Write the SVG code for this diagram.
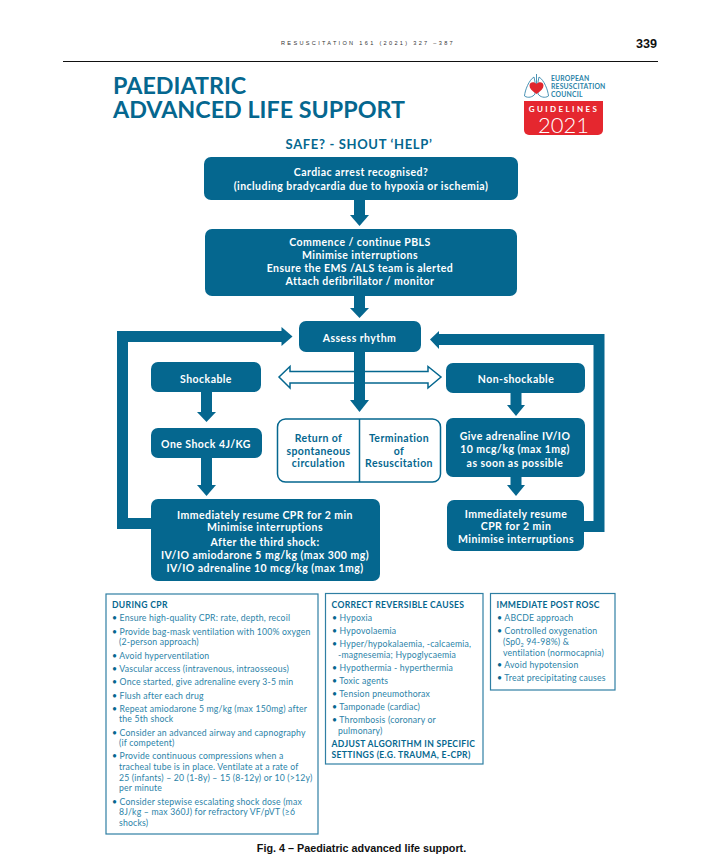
<svg xmlns="http://www.w3.org/2000/svg" width="716" height="861" viewBox="0 0 716 861">
<style>
text{font-family:"Lato","Open Sans","Liberation Sans",sans-serif}
.box{fill:#05678f}
.w{fill:#fff;font-weight:700;font-size:10.5px;text-anchor:middle;letter-spacing:.45px}
.t{fill:#05678f;font-weight:700;font-size:10.5px;text-anchor:middle;letter-spacing:.4px}
.shaft{fill:none;stroke:#05678f;stroke-width:11}
.head{fill:#05678f}
.panel{fill:#fff;stroke:#2f7fa3;stroke-width:1.2}
.h{fill:#05678f;font-weight:700;font-size:8.6px;letter-spacing:.33px}
.l{fill:#2b83a8;font-size:8.7px;letter-spacing:.18px}
.b{fill:#05678f;font-size:8.7px}
</style>
<rect width="716" height="861" fill="#fff"/>
<g id="header">
<text x="368" y="45" font-size="5.6" letter-spacing="2.3" text-anchor="middle" fill="#333" style="font-family:'Liberation Sans',sans-serif">RESUSCITATION 161 (2021) 327 –387</text>
<text x="636" y="48" font-size="12.6" font-weight="700" fill="#111" style="font-family:'Liberation Sans',sans-serif">339</text>
<line x1="63" y1="61.500" x2="658" y2="61.500" stroke="#111" stroke-width="1.200"/>
<text x="113" y="94" font-size="23.300" font-weight="700" fill="#05678f">PAEDIATRIC</text>
<text x="113" y="118" font-size="23.300" font-weight="700" fill="#05678f">ADVANCED LIFE SUPPORT</text>
<text x="359" y="149" font-size="13" font-weight="700" text-anchor="middle" fill="#05678f" letter-spacing=".65">SAFE? - SHOUT ‘HELP’</text>
</g>
<g id="logo">
<path d="M534 77C529 80 525 90 524.500 96C528 98.500 533 97 535 94V82ZM539 77C544 80 548 90 548.500 96C545 98.500 540 97 538 94V82Z" fill="#fff" stroke="#4a93b5" stroke-width="1"/>
<path d="M536.500 74V84" fill="none" stroke="#4a93b5" stroke-width="1"/>
<path d="M536.500 94C532 91 529.500 88.500 529.500 85.500C529.500 82 534 81 536.500 84C539 81 543.500 82 543.500 85.500C543.500 88.500 541 91 536.500 94Z" fill="#e0262e"/>
<g fill="#2b83a8" font-size="6.800" font-weight="700" letter-spacing=".2"><text x="551" y="80.500">EUROPEAN</text><text x="551" y="88.500">RESUSCITATION</text><text x="551" y="96.500">COUNCIL</text></g>
<path d="M524 101H603V130a5 5 0 0 1-5 5H529a5 5 0 0 1-5-5Z" fill="#e5272f"/>
<text x="564" y="111.500" font-size="8" font-weight="700" fill="#fff" text-anchor="middle" letter-spacing="2.400">GUIDELINES</text>
<text x="563.500" y="132.500" font-size="22" font-weight="300" fill="#fff" text-anchor="middle">2021</text>
</g>
<g id="connectors">
<path class="shaft" d="M359.500 200V216"/><polygon class="head" points="350,215 369,215 359.500,226"/>
<path class="shaft" d="M359.500 296V309"/><polygon class="head" points="350,308 369,308 359.500,318"/>
<path class="shaft" d="M155 523.500H122.500V336.500H282"/><polygon class="head" points="281.500,327 292.500,336.500 281.500,346"/>
<path class="shaft" d="M580 526.500H599V339.500H438"/><polygon class="head" points="439,331 430,339.500 439,349"/>
<polygon points="279,377 290,366.500 290,371.500 428,371.500 428,366.500 441,377 428,388 428,383 290,383 290,388" fill="#fff" stroke="#05678f" stroke-width="1.500"/>
<path class="shaft" d="M359.500 352V401"/><polygon class="head" points="350,400 369,400 359.500,412"/>
<path class="shaft" d="M206.500 392V413"/><polygon class="head" points="197,412 216,412 206.500,422"/>
<path class="shaft" d="M206.500 458V486"/><polygon class="head" points="197,485 216,485 206.500,496"/>
<path class="shaft" d="M516 393V406"/><polygon class="head" points="507,405 525,405 516,416"/>
<path class="shaft" d="M516 477V486"/><polygon class="head" points="507,485 525,485 516,496"/>
</g>
<g id="n-arrest"><rect class="box" x="204" y="157" width="314" height="43" rx="7"/><text class="w" x="361" y="176">Cardiac arrest recognised?</text><text class="w" x="361" y="190">(including bradycardia due to hypoxia or ischemia)</text></g>
<g id="n-pbls"><rect class="box" x="205" y="229" width="312" height="67" rx="7"/><text class="w" x="360" y="246">Commence / continue PBLS</text><text class="w" x="360" y="259">Minimise interruptions</text><text class="w" x="360" y="272">Ensure the EMS /ALS team is alerted</text><text class="w" x="360" y="285">Attach defibrillator / monitor</text></g>
<g id="n-assess"><rect class="box" x="299" y="321" width="122" height="31" rx="7"/><text class="w" x="359.500" y="341.500">Assess rhythm</text></g>
<g id="n-shockable"><rect class="box" x="151" y="362" width="110" height="30" rx="7"/><text class="w" x="206" y="382.500">Shockable</text></g>
<g id="n-nonshockable"><rect class="box" x="446" y="363" width="139" height="30" rx="7"/><text class="w" x="516" y="383">Non-shockable</text></g>
<g id="n-shock"><rect class="box" x="151" y="428" width="111" height="30" rx="7"/><text class="w" x="206" y="448">One Shock 4J/KG</text></g>
<g id="n-outcomes"><rect x="277.500" y="419" width="163" height="63" rx="8" fill="#fff" stroke="#05678f" stroke-width="1.500"/><line x1="359.500" y1="419" x2="359.500" y2="482" stroke="#05678f" stroke-width="1.500"/>
<text class="t" x="318.500" y="442">Return of</text><text class="t" x="318.500" y="455">spontaneous</text><text class="t" x="318.500" y="467">circulation</text>
<text class="t" x="399" y="442">Termination</text><text class="t" x="399" y="455">of</text><text class="t" x="399" y="467">Resuscitation</text></g>
<g id="n-adrenaline"><rect class="box" x="446" y="418" width="139" height="59" rx="7"/><text class="w" x="515" y="440">Give adrenaline IV/IO</text><text class="w" x="515" y="453">10 mcg/kg (max 1mg)</text><text class="w" x="515" y="466.500">as soon as possible</text></g>
<g id="n-resume-left"><rect class="box" x="151" y="499" width="229" height="82" rx="7"/><text class="w" x="265" y="518.500">Immediately resume CPR for 2 min</text><text class="w" x="265" y="531">Minimise interruptions</text><text class="w" x="265" y="546">After the third shock:</text><text class="w" x="265" y="559">IV/IO amiodarone 5 mg/kg (max 300 mg)</text><text class="w" x="265" y="572">IV/IO adrenaline 10 mcg/kg (max 1mg)</text></g>
<g id="n-resume-right"><rect class="box" x="447" y="500" width="137" height="51" rx="7"/><text class="w" x="516" y="517.500">Immediately resume</text><text class="w" x="516" y="530">CPR for 2 min</text><text class="w" x="516" y="542.500">Minimise interruptions</text></g>
<g id="panel-cpr"><rect class="panel" x="106" y="594" width="212" height="240"/>
<text class="h" x="112" y="608">DURING CPR</text>
<g class="l">
<text x="112" y="621"><tspan class="b">•</tspan> Ensure high-quality CPR: rate, depth, recoil</text>
<text x="112" y="635"><tspan class="b">•</tspan> Provide bag-mask ventilation with 100% oxygen</text>
<text x="119" y="645">(2-person approach)</text>
<text x="112" y="659"><tspan class="b">•</tspan> Avoid hyperventilation</text>
<text x="112" y="672"><tspan class="b">•</tspan> Vascular access (intravenous, intraosseous)</text>
<text x="112" y="685"><tspan class="b">•</tspan> Once started, give adrenaline every 3-5 min</text>
<text x="112" y="699"><tspan class="b">•</tspan> Flush after each drug</text>
<text x="112" y="712"><tspan class="b">•</tspan> Repeat amiodarone 5 mg/kg (max 150mg) after</text>
<text x="119" y="722">the 5th shock</text>
<text x="112" y="736"><tspan class="b">•</tspan> Consider an advanced airway and capnography</text>
<text x="119" y="746">(if competent)</text>
<text x="112" y="759"><tspan class="b">•</tspan> Provide continuous compressions when a</text>
<text x="119" y="770">tracheal tube is in place. Ventilate at a rate of</text>
<text x="119" y="781">25 (infants) – 20 (1-8y) – 15 (8-12y) or 10 (&gt;12y)</text>
<text x="119" y="791">per minute</text>
<text x="112" y="805"><tspan class="b">•</tspan> Consider stepwise escalating shock dose (max</text>
<text x="119" y="815">8J/kg – max 360J) for refractory VF/pVT (≥6</text>
<text x="119" y="826">shocks)</text>
</g></g>
<g id="panel-causes"><rect class="panel" x="325.500" y="593.500" width="157.500" height="170.500"/>
<text class="h" x="331.500" y="608">CORRECT REVERSIBLE CAUSES</text>
<g class="l">
<text x="332" y="621"><tspan class="b">•</tspan> Hypoxia</text>
<text x="332" y="634"><tspan class="b">•</tspan> Hypovolaemia</text>
<text x="332" y="647"><tspan class="b">•</tspan> Hyper/hypokalaemia, -calcaemia,</text>
<text x="338" y="658">-magnesemia; Hypoglycaemia</text>
<text x="332" y="671"><tspan class="b">•</tspan> Hypothermia - hyperthermia</text>
<text x="332" y="684"><tspan class="b">•</tspan> Toxic agents</text>
<text x="332" y="697"><tspan class="b">•</tspan> Tension pneumothorax</text>
<text x="332" y="710"><tspan class="b">•</tspan> Tamponade (cardiac)</text>
<text x="332" y="723"><tspan class="b">•</tspan> Thrombosis (coronary or</text>
<text x="338" y="734">pulmonary)</text>
</g>
<text class="h" x="331.500" y="747">ADJUST ALGORITHM IN SPECIFIC</text>
<text class="h" x="331.500" y="757.500">SETTINGS (E.G. TRAUMA, E-CPR)</text></g>
<g id="panel-rosc"><rect class="panel" x="490.500" y="593.500" width="124.500" height="96.500"/>
<text class="h" x="496.500" y="608">IMMEDIATE POST ROSC</text>
<g class="l">
<text x="497" y="621"><tspan class="b">•</tspan> ABCDE approach</text>
<text x="497" y="634"><tspan class="b">•</tspan> Controlled oxygenation</text>
<text x="503" y="645">(Sp0<tspan font-size="5.500" dy="1.500">2</tspan><tspan dy="-1.500"> 94-98%) &amp;</tspan></text>
<text x="503" y="655.500">ventilation (normocapnia)</text>
<text x="497" y="668"><tspan class="b">•</tspan> Avoid hypotension</text>
<text x="497" y="681"><tspan class="b">•</tspan> Treat precipitating causes</text>
</g></g>
<text x="361.500" y="852" font-size="10.800" font-weight="700" text-anchor="middle" fill="#111" style="font-family:'Liberation Sans',sans-serif">Fig. 4 – Paediatric advanced life support.</text>
</svg>
